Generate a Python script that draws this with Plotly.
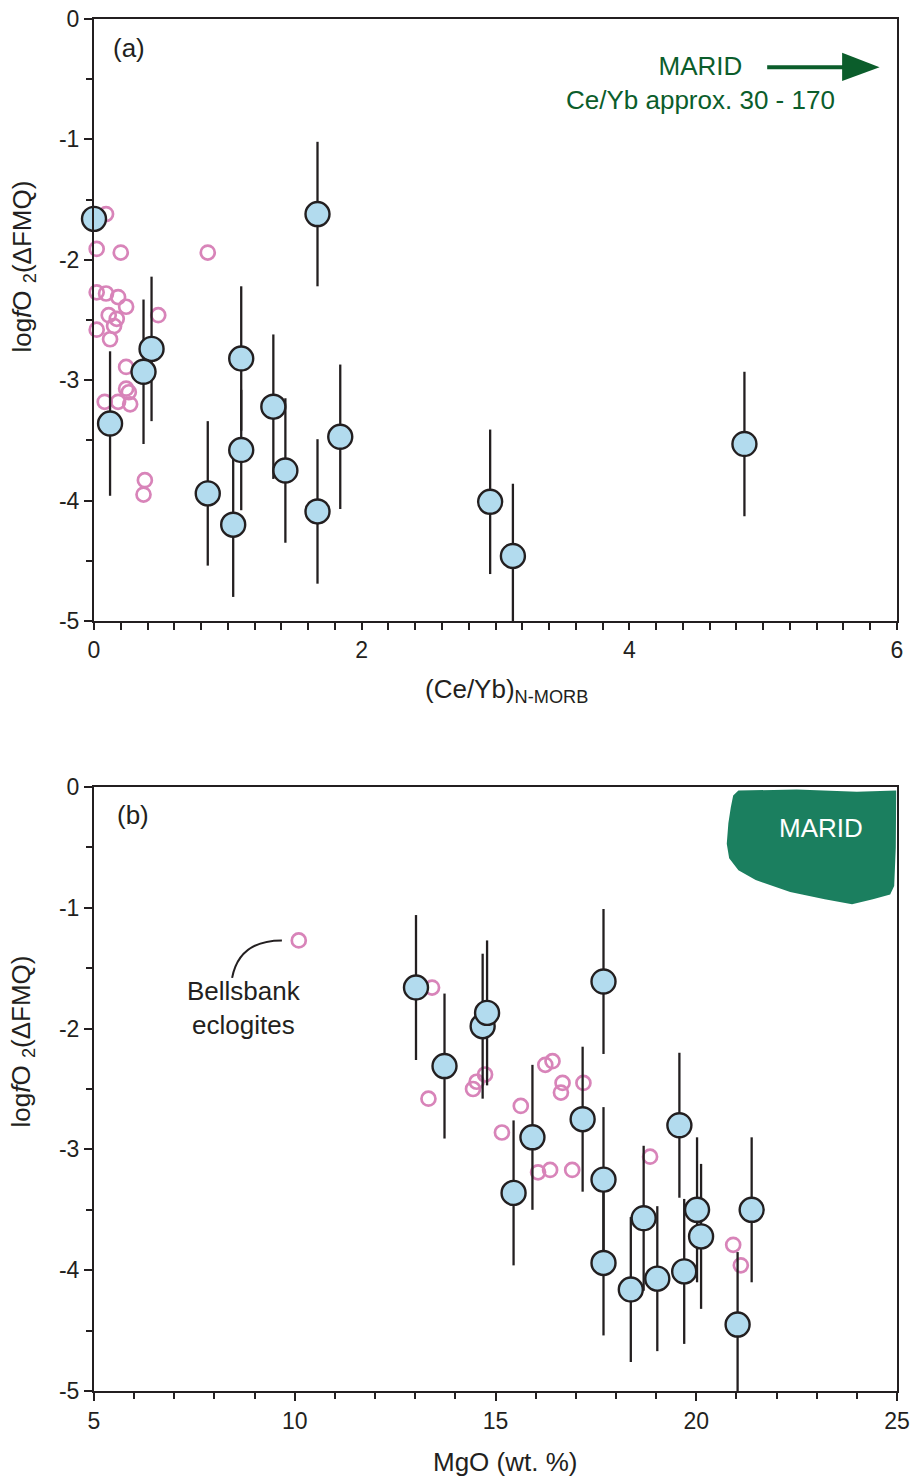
import plotly.graph_objects as go

# ---------------- data ----------------
# Panel (a): (Ce/Yb)N-MORB vs logfO2
a_blue_x = [0.0, 1.67, 0.43, 0.37, 0.12, 1.10, 1.10, 1.04, 0.85, 1.34, 1.43, 1.67, 1.84, 2.96, 3.13, 4.86]
a_blue_y = [-1.66, -1.62, -2.74, -2.93, -3.36, -2.82, -3.58, -4.20, -3.94, -3.22, -3.75, -4.09, -3.47, -4.01, -4.46, -3.53]
a_blue_err = [0.0, 0.6, 0.6, 0.6, 0.6, 0.6, 0.5, 0.6, 0.6, 0.6, 0.6, 0.6, 0.6, 0.6, 0.6, 0.6]

a_pink_x = [0.09, 0.02, 0.20, 0.85, 0.02, 0.09, 0.18, 0.24, 0.48, 0.11, 0.17, 0.15, 0.02, 0.12,
            0.24, 0.24, 0.26, 0.18, 0.08, 0.27, 0.38, 0.37]
a_pink_y = [-1.62, -1.91, -1.94, -1.94, -2.27, -2.28, -2.31, -2.39, -2.46, -2.46, -2.49, -2.55, -2.58, -2.66,
            -2.89, -3.07, -3.10, -3.18, -3.18, -3.20, -3.83, -3.95]

# Panel (b): MgO vs logfO2
b_blue_x = [13.02, 13.73, 14.68, 14.79, 17.69, 17.17, 19.58, 15.92, 15.45, 17.69, 17.69, 18.69, 18.37,
            19.03, 19.70, 20.02, 20.12, 21.38, 21.03]
b_blue_y = [-1.66, -2.31, -1.98, -1.87, -1.61, -2.75, -2.80, -2.90, -3.36, -3.25, -3.94, -3.57, -4.16,
            -4.07, -4.01, -3.50, -3.72, -3.50, -4.45]
b_blue_err = [0.6] * len(b_blue_x)

b_pink_x = [10.10, 13.42, 13.33, 14.74, 14.53, 14.44, 15.63, 15.16, 16.42, 16.24, 16.67, 16.63, 17.19,
            16.06, 16.36, 16.91, 18.85, 20.92, 21.11]
b_pink_y = [-1.27, -1.66, -2.58, -2.38, -2.44, -2.50, -2.64, -2.86, -2.27, -2.30, -2.45, -2.53, -2.45,
            -3.19, -3.17, -3.17, -3.06, -3.79, -3.96]

# MARID field outline in panel (b)
marid_x = [21.05, 22.5, 24.0, 24.98, 24.97, 24.93, 24.83, 24.4, 23.88, 23.2, 22.34, 21.48, 21.05, 20.82,
           20.76, 20.8, 20.86, 20.92]
marid_y = [-0.03, -0.02, -0.04, -0.03, -0.5, -0.82, -0.89, -0.93, -0.97, -0.93, -0.87, -0.77, -0.69, -0.59,
           -0.47, -0.3, -0.17, -0.07]

# tick labels
y_tickvals = [0, -1, -2, -3, -4, -5]
y_ticktext = ["0", "-1", "-2", "-3", "-4", "-5"]
a_x_labels = {0: "0", 10: "2", 20: "4", 30: "6"}          # index of 0.2-step tick -> label
a_x_tickvals = [i * 0.2 for i in range(31)]
a_x_ticktext = [a_x_labels.get(i, "") for i in range(31)]
b_x_tickvals = [5, 10, 15, 20, 25]
b_x_ticktext = ["5", "10", "15", "20", "25"]

# ---------------- style ----------------
FONT = "Liberation Sans, Arial, Helvetica, sans-serif"
INK = "#231f20"
BLUE = "#b2dbee"
PINK = "#d884b9"
GREEN_TXT = "#0b5d2b"
GREEN_FILL = "#1b7f5f"

W, H = 919, 1477
ML, MR, MT, MB = 93.5, 21.5, 19, 86
plot_h = H - MT - MB
plot_w = W - ML - MR
def yfrac(py):
    return 1 - (py - MT) / plot_h
def xfrac(px):
    return (px - ML) / plot_w

fig = go.Figure()

def add_panel(xa, ya, px, py, bx, by, berr):
    fig.add_trace(go.Scatter(x=px, y=py, mode="markers", xaxis=xa, yaxis=ya,
                             marker=dict(symbol="circle-open", size=14, color=PINK,
                                         line=dict(width=2.7, color=PINK)),
                             cliponaxis=False, showlegend=False, hoverinfo="skip"))
    fig.add_trace(go.Scatter(x=bx, y=by, mode="markers", xaxis=xa, yaxis=ya,
                             marker=dict(size=1, opacity=0),
                             error_y=dict(type="data", array=berr, symmetric=True,
                                          color=INK, thickness=2.3, width=0),
                             cliponaxis=True, showlegend=False, hoverinfo="skip"))
    fig.add_trace(go.Scatter(x=bx, y=by, mode="markers", xaxis=xa, yaxis=ya,
                             marker=dict(size=24, color=BLUE, line=dict(width=2.4, color=INK)),
                             cliponaxis=False, showlegend=False, hoverinfo="skip"))

add_panel("x", "y", a_pink_x, a_pink_y, a_blue_x, a_blue_y, a_blue_err)
add_panel("x2", "y2", b_pink_x, b_pink_y, b_blue_x, b_blue_y, b_blue_err)

# MARID field
path = "M " + " L ".join(f"{x},{y}" for x, y in zip(marid_x, marid_y)) + " Z"
shapes = [
    dict(type="path", path=path, xref="x2", yref="y2", fillcolor=GREEN_FILL,
         line=dict(width=0), layer="below"),
    # arrow in panel (a)
    dict(type="line", xref="x", yref="y", x0=5.03, x1=5.62, y0=-0.40, y1=-0.40,
         line=dict(color=GREEN_TXT, width=4)),
    dict(type="path", xref="x", yref="y", path="M 5.59,-0.28 L 5.87,-0.40 L 5.59,-0.515 Z",
         fillcolor=GREEN_TXT, line=dict(width=0)),
    # leader curve for Bellsbank eclogites
    dict(type="path", xref="x2", yref="y2", path="M 8.44,-1.58 Q 8.62,-1.27 9.68,-1.27",
         line=dict(color=INK, width=2)),
]

ytitle = "log<i>f</i>O <sub>2</sub>(ΔFMQ)"

annotations = [
    dict(x=0.26, y=-0.24, xref="x", yref="y", text="(a)", showarrow=False,
         font=dict(size=26, color=INK, family=FONT)),
    dict(x=4.53, y=-0.53, xref="x", yref="y",
         text="MARID<br>Ce/Yb approx. 30 - 170", showarrow=False, align="center",
         font=dict(size=26, color=GREEN_TXT, family=FONT)),
    dict(x=5.98, y=-0.23, xref="x2", yref="y2", text="(b)", showarrow=False,
         font=dict(size=26, color=INK, family=FONT)),
    dict(x=23.11, y=-0.34, xref="x2", yref="y2", text="MARID", showarrow=False,
         font=dict(size=26, color="white", family=FONT)),
    dict(x=8.73, y=-1.83, xref="x2", yref="y2", text="Bellsbank<br>eclogites",
         showarrow=False, align="center", font=dict(size=26, color=INK, family=FONT)),
    # y-axis titles
    dict(x=xfrac(22), y=-2.06, xref="paper", yref="y", text=ytitle, textangle=-90,
         showarrow=False, xanchor="center", yanchor="middle",
         font=dict(size=26, color=INK, family=FONT)),
    dict(x=xfrac(22), y=-2.11, xref="paper", yref="y2", text=ytitle, textangle=-90,
         showarrow=False, xanchor="center", yanchor="middle",
         font=dict(size=26, color=INK, family=FONT)),
    # x-axis titles
    dict(x=xfrac(507), y=yfrac(690), xref="paper", yref="paper",
         text="(Ce/Yb)<sub>N-MORB</sub>", showarrow=False, xanchor="center", yanchor="middle",
         font=dict(size=26, color=INK, family=FONT)),
    dict(x=xfrac(505), y=yfrac(1462), xref="paper", yref="paper",
         text="MgO (wt. %)", showarrow=False, xanchor="center", yanchor="middle",
         font=dict(size=26, color=INK, family=FONT)),
]

axis_common = dict(showline=True, linecolor=INK, linewidth=2, mirror=True,
                   showgrid=False, zeroline=False, ticks="outside", ticklen=8,
                   tickwidth=2, tickcolor=INK, automargin=False, tickmode="array",
                   tickfont=dict(size=23, color=INK, family=FONT))
minor_common = dict(ticks="outside", ticklen=6, tickwidth=2, tickcolor=INK)

fig.update_layout(
    width=W, height=H,
    margin=dict(l=ML, r=MR, t=MT, b=MB, pad=0),
    paper_bgcolor="white", plot_bgcolor="white",
    font=dict(family=FONT, color=INK),
    xaxis=dict(axis_common, domain=[0, 1], anchor="y", range=[0, 6], ticklen=7,
               tickvals=a_x_tickvals, ticktext=a_x_ticktext),
    yaxis=dict(axis_common, domain=[yfrac(621), 1], anchor="x", range=[-5, 0],
               tickvals=y_tickvals, ticktext=y_ticktext,
               minor=dict(minor_common, tickmode="linear", dtick=0.5, tick0=0)),
    xaxis2=dict(axis_common, domain=[0, 1], anchor="y2", range=[5, 25],
                tickvals=b_x_tickvals, ticktext=b_x_ticktext,
                minor=dict(minor_common, tickmode="linear", dtick=1, tick0=5)),
    yaxis2=dict(axis_common, domain=[0, yfrac(787)], anchor="x2", range=[-5, 0],
                tickvals=y_tickvals, ticktext=y_ticktext,
                minor=dict(minor_common, tickmode="linear", dtick=0.5, tick0=0)),
    shapes=shapes,
    annotations=annotations,
    showlegend=False,
)

fig.write_html("out.html")
